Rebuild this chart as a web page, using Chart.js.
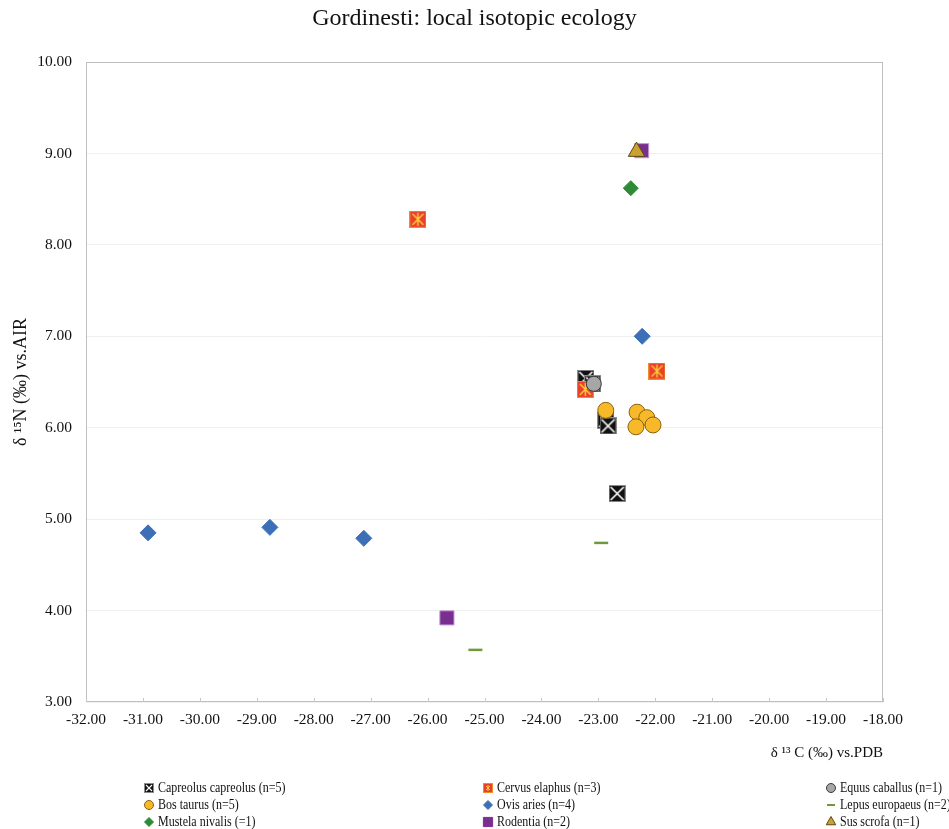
<!DOCTYPE html>
<html>
<head>
<meta charset="utf-8">
<script src="https://cdn.jsdelivr.net/npm/chart.js@4.4.1/dist/chart.umd.min.js"></script>
<style>
html, body { margin: 0; padding: 0; background: #fff; }
#wrap { position: relative; width: 949px; height: 829px; }
#title { position: absolute; left: 0; top: 4px; width: 949px; text-align: center; font-family: "Liberation Serif", serif; font-size: 24px; color: #111; }
#legend { position: absolute; left: 0; top: 779px; width: 949px; font-family: "Liberation Serif", serif; font-size: 15px; color: #111; }
.item { position: absolute; display: flex; align-items: center; white-space: nowrap; height: 17px; }
.item canvas { margin-right: 3px; }
.item span { display: inline-block; transform: scaleX(0.8); transform-origin: left center; }
</style>
</head>
<body>
<div id="wrap">
<canvas id="isoChart" width="949" height="829"></canvas>
<div id="title">Gordinesti: local isotopic ecology</div>
<div id="legend"></div>
</div>
<script>

/* =========================
DATA
========================= */

const seriesNames = [
    "Capreolus capreolus (n=5)",
    "Cervus elaphus (n=3)",
    "Equus caballus (n=1)",
    "Bos taurus (n=5)",
    "Ovis aries (n=4)",
    "Lepus europaeus (n=2)",
    "Mustela nivalis (=1)",
    "Rodentia (n=2)",
    "Sus scrofa (n=1)"
];

const capreolusC = [-23.22, -23.10, -22.87, -22.83, -22.67];
const capreolusN = [6.54, 6.48, 6.08, 6.02, 5.28];

const cervusC = [-26.17, -21.97, -23.23];
const cervusN = [8.28, 6.62, 6.42];

const equusC = [-23.08];
const equusN = [6.48];

const bosC = [-22.87, -22.32, -22.15, -22.34, -22.04];
const bosN = [6.19, 6.17, 6.11, 6.01, 6.03];

const ovisC = [-30.91, -28.77, -27.12, -22.23];
const ovisN = [4.85, 4.91, 4.79, 7.00];

const lepusC = [-25.16, -22.95];
const lepusN = [3.57, 4.74];

const mustelaC = [-22.43];
const mustelaN = [8.62];

const rodentiaC = [-25.66, -22.24];
const rodentiaN = [3.92, 9.03];

const susC = [-22.33];
const susN = [9.02];

const xTicks = [-32, -31, -30, -29, -28, -27, -26, -25, -24, -23, -22, -21, -20, -19, -18];
const yTicks = [3, 4, 5, 6, 7, 8, 9, 10];

/* =========================
MARKER IMAGES
========================= */

function crossedSquare(size) {

    const c = document.createElement("canvas");
    c.width = size;
    c.height = size;
    const g = c.getContext("2d");

    g.fillStyle = "#8c8c8c";
    g.fillRect(0, 0, size, size);
    g.fillStyle = "#111";
    g.fillRect(1, 1, size - 2, size - 2);

    g.strokeStyle = "#ffffff";
    g.lineWidth = size > 12 ? 1.6 : 1.1;
    g.beginPath();
    g.moveTo(2, 2);
    g.lineTo(size - 2, size - 2);
    g.moveTo(size - 2, 2);
    g.lineTo(2, size - 2);
    g.stroke();

    return c;

}

function starSquare(size) {

    const c = document.createElement("canvas");
    c.width = size;
    c.height = size;
    const g = c.getContext("2d");

    g.fillStyle = "#f08a2c";
    g.fillRect(0, 0, size, size);
    g.fillStyle = "#e8402a";
    g.fillRect(1, 1, size - 2, size - 2);

    const m = size / 2;
    g.strokeStyle = "#ffd23a";
    g.lineWidth = size > 12 ? 1.4 : 1;
    g.beginPath();
    g.moveTo(3, 3);
    g.lineTo(size - 3, size - 3);
    g.moveTo(size - 3, 3);
    g.lineTo(3, size - 3);
    g.moveTo(m, 2);
    g.lineTo(m, size - 2);
    g.stroke();

    return c;

}

/* =========================
SERIES STYLES
========================= */

function toPoints(xs, ys) {

    return xs.map((x, i) => ({ x: x, y: ys[i] }));

}

const seriesData = [
    toPoints(capreolusC, capreolusN),
    toPoints(cervusC, cervusN),
    toPoints(equusC, equusN),
    toPoints(bosC, bosN),
    toPoints(ovisC, ovisN),
    toPoints(lepusC, lepusN),
    toPoints(mustelaC, mustelaN),
    toPoints(rodentiaC, rodentiaN),
    toPoints(susC, susN)
];

const seriesStyles = [
    { pointStyle: crossedSquare(17) },
    { pointStyle: starSquare(17) },
    { pointStyle: "circle", radius: 7.5, bg: "#a6a6a6", border: "#3a3a3a" },
    { pointStyle: "circle", radius: 8, bg: "#f7b928", border: "#8a6210" },
    { pointStyle: "rectRot", radius: 8, bg: "#3d6fb6", border: "#3d6fb6" },
    { pointStyle: "line", radius: 7, bg: "#6f9a3c", border: "#6f9a3c", width: 2.5 },
    { pointStyle: "rectRot", radius: 7.5, bg: "#2f8a35", border: "#2f8a35" },
    { pointStyle: "rect", radius: 10, bg: "#7a2f90", border: "#c39ad0" },
    { pointStyle: "triangle", radius: 9.5, bg: "#c9a230", border: "#5a4a1a" }
];

const legendStyles = [
    { pointStyle: crossedSquare(10) },
    { pointStyle: starSquare(10) },
    { pointStyle: "circle", radius: 4.5, bg: "#a6a6a6", border: "#3a3a3a" },
    { pointStyle: "circle", radius: 4.5, bg: "#f7b928", border: "#8a6210" },
    { pointStyle: "rectRot", radius: 4.5, bg: "#3d6fb6", border: "#3d6fb6" },
    { pointStyle: "line", radius: 4, bg: "#6f9a3c", border: "#6f9a3c", width: 2 },
    { pointStyle: "rectRot", radius: 4.5, bg: "#2f8a35", border: "#2f8a35" },
    { pointStyle: "rect", radius: 6.5, bg: "#7a2f90", border: "#7a2f90" },
    { pointStyle: "triangle", radius: 5.5, bg: "#c9a230", border: "#5a4a1a" }
];

const datasets = seriesNames.map((name, i) => {

    const s = seriesStyles[i];

    return {
        label: name,
        data: seriesData[i],
        pointStyle: s.pointStyle,
        pointRadius: s.radius || 8,
        pointHoverRadius: s.radius || 8,
        backgroundColor: s.bg || "#000",
        borderColor: s.border || "#000",
        pointBorderWidth: s.width || 1,
        order: seriesNames.length - i
    };

});

/* =========================
PLOT FRAME
========================= */

const framePlugin = {

    id: "frame",

    beforeDatasetsDraw(chart) {

        const a = chart.chartArea;
        const g = chart.ctx;
        const xs = chart.scales.x;

        g.save();
        g.strokeStyle = "#bfbfbf";
        g.lineWidth = 1;
        g.strokeRect(a.left + 0.5, a.top + 0.5, a.right - a.left - 1, a.bottom - a.top - 1);

        g.strokeStyle = "#c8c8c8";
        g.beginPath();
        xTicks.forEach(v => {
            const px = Math.round(xs.getPixelForValue(v)) + 0.5;
            g.moveTo(px, a.bottom);
            g.lineTo(px, a.bottom - 4);
        });
        g.stroke();
        g.restore();

    }

};

/* =========================
CHART
========================= */

const ctx = document.getElementById("isoChart");

new Chart(ctx, {

    type: "scatter",

    data: { datasets: datasets },

    options: {

        responsive: false,
        animation: false,

        layout: {
            padding: { left: 0, right: 66, top: 62, bottom: 67 }
        },

        plugins: {

            legend: { display: false },

            tooltip: { enabled: false }

        },

        scales: {

            x: {
                type: "linear",
                min: -32,
                max: -18,
                afterBuildTicks: s => { s.ticks = xTicks.map(v => ({ value: v })); },
                afterFit: s => { s.height = 60; },
                grid: { display: false, drawTicks: false },
                border: { display: false },
                ticks: {
                    color: "#111",
                    padding: 9,
                    maxRotation: 0,
                    font: { family: "Liberation Serif", size: 15.5 },
                    callback: v => v.toFixed(2)
                },
                title: {
                    display: true,
                    align: "end",
                    text: "δ ¹³ C (‰) vs.PDB",
                    color: "#111",
                    font: { family: "Liberation Serif", size: 15 },
                    padding: { top: 10, bottom: 0 }
                }
            },

            y: {
                type: "linear",
                min: 3,
                max: 10,
                afterBuildTicks: s => { s.ticks = yTicks.map(v => ({ value: v })); },
                afterFit: s => { s.width = 86; },
                grid: { color: "#f0f0f0", drawTicks: false },
                border: { display: false },
                ticks: {
                    color: "#111",
                    padding: 14,
                    font: { family: "Liberation Serif", size: 15.5 },
                    callback: v => v.toFixed(2)
                },
                title: {
                    display: true,
                    text: "δ ¹⁵N (‰) vs.AIR",
                    color: "#111",
                    font: { family: "Liberation Serif", size: 18 },
                    padding: { top: 10, bottom: 0 }
                }
            }

        }

    },

    plugins: [framePlugin]

});

/* =========================
HTML LEGEND
========================= */

const legendCols = [143, 482, 825];
const legendBox = document.getElementById("legend");

seriesNames.forEach((name, i) => {

    const item = document.createElement("div");
    item.className = "item";
    item.style.left = legendCols[i % 3] + "px";
    item.style.top = (Math.floor(i / 3) * 17) + "px";

    const mk = document.createElement("canvas");
    mk.width = 12;
    mk.height = 12;
    const s = legendStyles[i];
    const g = mk.getContext("2d");

    if (s.pointStyle instanceof HTMLCanvasElement) {
        g.drawImage(s.pointStyle, 1, 1);
    } else {
        g.fillStyle = s.bg;
        g.strokeStyle = s.border;
        g.lineWidth = s.width || 1;
        Chart.helpers.drawPoint(g, { pointStyle: s.pointStyle, radius: s.radius, borderWidth: s.width || 1 }, 6, 6);
    }

    const label = document.createElement("span");
    label.textContent = name;

    item.appendChild(mk);
    item.appendChild(label);
    legendBox.appendChild(item);

});

</script>
</body>
</html>
